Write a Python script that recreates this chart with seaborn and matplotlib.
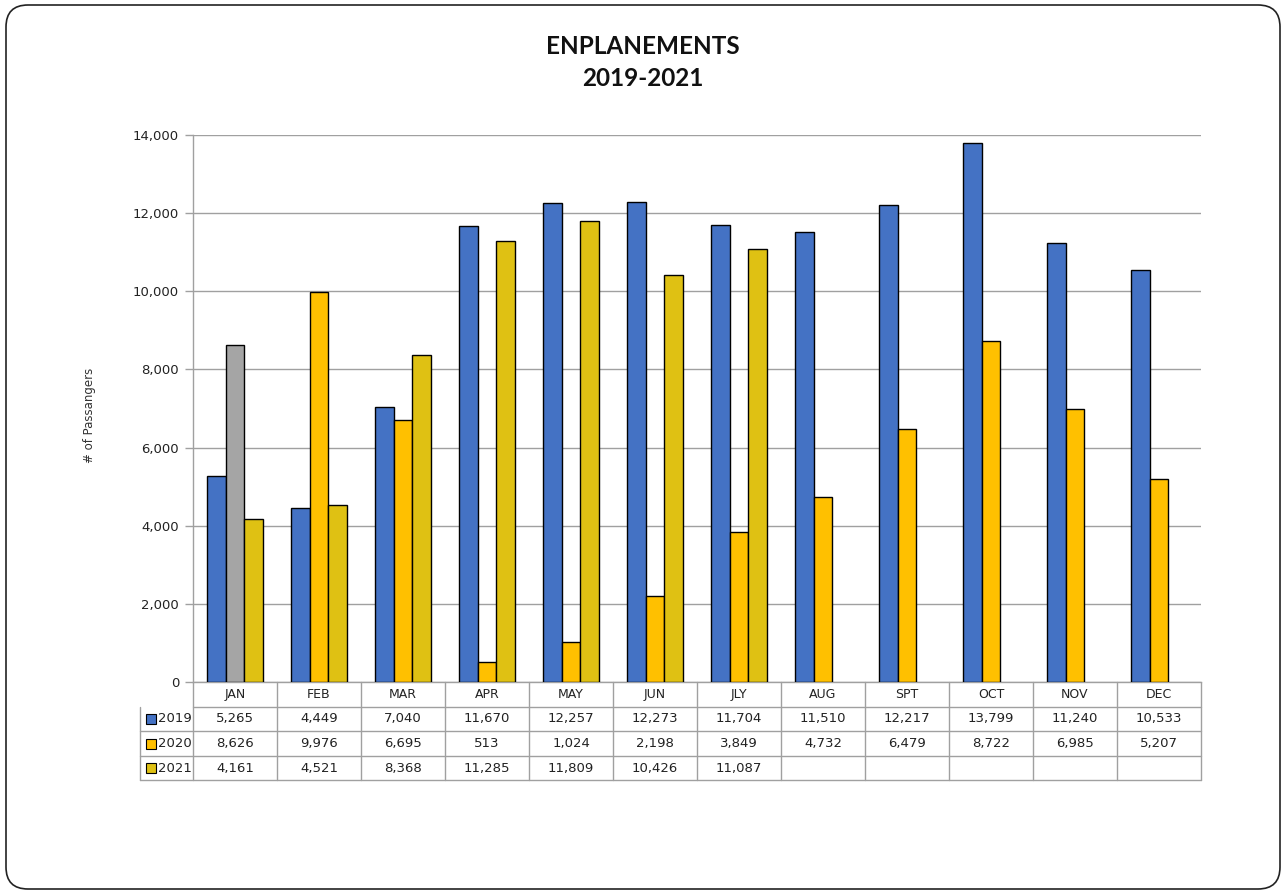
import matplotlib
matplotlib.use("Agg")
import matplotlib.pyplot as plt
import matplotlib.transforms as mtransforms
from matplotlib.patches import FancyBboxPatch, Rectangle
from matplotlib.lines import Line2D
import seaborn as sns
import numpy as np
import pandas as pd

months = ["JAN", "FEB", "MAR", "APR", "MAY", "JUN", "JLY", "AUG", "SPT", "OCT", "NOV", "DEC"]
years = ["2019", "2020", "2021"]
v2019 = [5265, 4449, 7040, 11670, 12257, 12273, 11704, 11510, 12217, 13799, 11240, 10533]
v2020 = [8626, 9976, 6695, 513, 1024, 2198, 3849, 4732, 6479, 8722, 6985, 5207]
v2021 = [4161, 4521, 8368, 11285, 11809, 10426, 11087, None, None, None, None, None]
colors = ["#4472C4", "#FFC000", "#DFC113"]
highlight_color = "#A5A5A5"  # JAN 2020 bar drawn in gray in the original

series = {"2019": v2019, "2020": v2020, "2021": v2021}
rows = []
for y in years:
    for m, v in zip(months, series[y]):
        rows.append({"month": m, "year": y, "value": np.nan if v is None else v})
df = pd.DataFrame(rows)

sns.set_style("white")
plt.rcParams["font.family"] = ["DejaVu Sans"]

W, H = 1286, 893
fig = plt.figure(figsize=(W / 100, H / 100), dpi=100)
ax = fig.add_axes([193 / W, 1 - 682 / H, (1201 - 193) / W, (682 - 135) / H])

sns.barplot(data=df, x="month", y="value", hue="year", order=months, hue_order=years,
            palette=colors, edgecolor="black", linewidth=1, width=0.67, gap=0,
            saturation=1, ax=ax, legend=False, zorder=3)
ax.containers[1][0].set_facecolor(highlight_color)

ax.set_xlim(-0.5, len(months) - 0.5)
ax.set_ylim(0, 14000)
ax.set_yticks(np.arange(0, 14001, 2000))
ax.set_yticklabels([f"{int(t):,}" for t in np.arange(0, 14001, 2000)], fontsize=9.5, color="#222222")
ax.tick_params(axis="y", length=6, width=1, color="#A0A0A0", pad=4, left=True)
ax.set_xticks([])
ax.set_xlabel("")
ax.set_ylabel("")
ax.yaxis.grid(True, color="#A0A0A0", linewidth=1, zorder=0)
ax.set_axisbelow(True)
for s in ["top", "right"]:
    ax.spines[s].set_visible(False)
for s in ["left", "bottom"]:
    ax.spines[s].set_color("#A0A0A0")
    ax.spines[s].set_linewidth(1)

# Data table below the axis
trans = mtransforms.blended_transform_factory(ax.transData, ax.transAxes)
axh_px = 682 - 135
rh = 24.6 / axh_px
px_per_unit = (1201 - 193) / len(months)
x_left = -0.5 - (193 - 140) / px_per_unit
xr = len(months) - 0.5
lc = "#A0A0A0"

def line(xs, ys):
    ax.add_line(Line2D(xs, ys, transform=trans, color=lc, linewidth=1, clip_on=False))

for i in range(len(months) + 1):
    line([i - 0.5, i - 0.5], [0, -4 * rh])
line([-0.5, xr], [-rh, -rh])
for k in range(2, 5):
    line([x_left, xr], [-k * rh, -k * rh])
line([x_left, x_left], [-rh, -4 * rh])

for i, m in enumerate(months):
    ax.text(i, -0.5 * rh, m, transform=trans, ha="center", va="center", fontsize=9, color="#222222")

for r, y in enumerate(years):
    yc = -(r + 1.5) * rh
    for i, v in enumerate(series[y]):
        if v is not None:
            ax.text(i, yc, f"{v:,}", transform=trans, ha="center", va="center", fontsize=9.5, color="#222222")
    # legend key
    kx = x_left + 6 / px_per_unit
    kw = 10 / px_per_unit
    kh = 10 / axh_px
    ax.add_patch(Rectangle((kx, yc - kh / 2), kw, kh, transform=trans, facecolor=colors[r],
                           edgecolor="black", linewidth=0.8, clip_on=False))
    ax.text(kx + kw + 2 / px_per_unit, yc, y, transform=trans, ha="left", va="center",
            fontsize=9.5, color="#222222")

# Titles and axis label
fig.text(0.5, 1 - 46 / H, "ENPLANEMENTS", ha="center", va="center", fontsize=17.5,
         fontweight="bold", family=["Lato", "DejaVu Sans"], color="#111111")
fig.text(0.5, 1 - 79 / H, "2019-2021", ha="center", va="center", fontsize=17.5,
         fontweight="bold", family=["Lato", "DejaVu Sans"], color="#111111")
fig.text(90 / W, 1 - 415 / H, "# of Passangers", rotation=90, ha="center", va="center",
         fontsize=8.5, color="#333333")

# Rounded border around the chart
border = FancyBboxPatch((6, 4), W - 12, H - 9, boxstyle="round,pad=0,rounding_size=22",
                        transform=mtransforms.IdentityTransform(), facecolor="none",
                        edgecolor="#222222", linewidth=1.2)
fig.patches.append(border)

fig.savefig("out.png", dpi=100)
